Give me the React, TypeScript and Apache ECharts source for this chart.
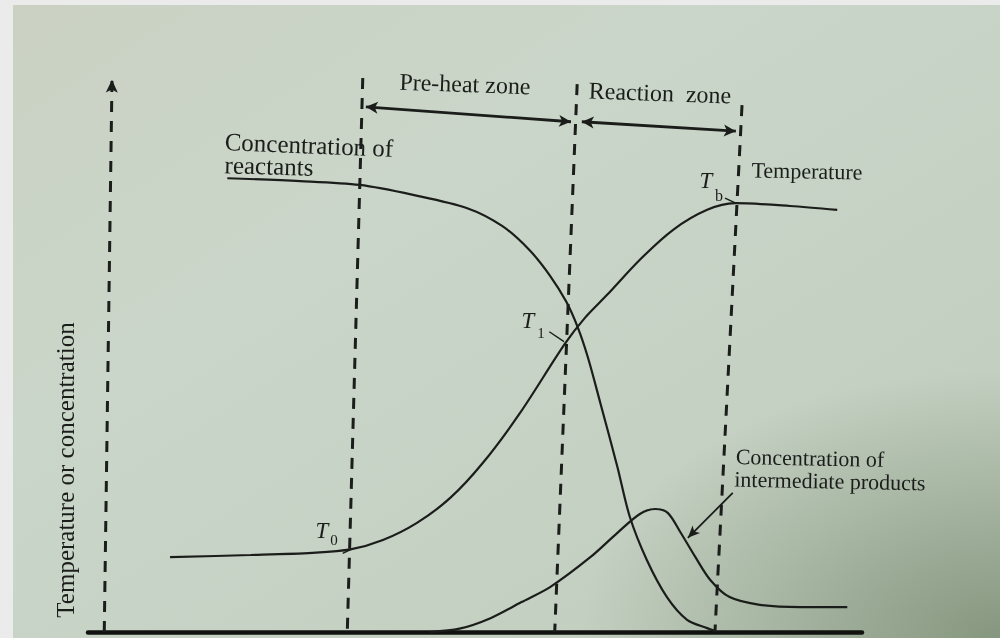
import { useEffect, useRef } from "react";
import * as echarts from "echarts";

// Position through the flame front (0–100) against normalised
// temperature / concentration (0–100).
const reactantConc: number[][] = [
  [18.0, 81.9], [27.4, 81.4], [35.1, 80.7], [42.0, 78.9], [49.0, 76.5],
  [53.5, 73.3], [57.0, 69.0], [59.7, 64.3], [61.8, 59.6], [63.3, 54.9],
  [64.6, 49.5], [66.2, 41.3], [68.4, 29.8], [70.0, 20.8], [72.2, 13.0],
  [74.8, 6.3], [77.4, 2.2], [80.0, 0.7], [81.0, 0.2],
];

const temperature: number[][] = [
  [10.6, 13.5], [21.0, 13.9], [29.0, 14.3], [33.9, 14.9], [38.1, 16.6],
  [42.5, 19.7], [46.8, 24.2], [51.0, 30.5], [55.8, 39.5], [61.6, 52.0],
  [64.2, 56.7], [67.1, 60.9], [71.3, 67.2], [75.6, 72.6], [80.0, 76.2],
  [83.6, 77.4], [90.7, 76.9], [96.8, 76.2],
];

const intermediateConc: number[][] = [
  [44.2, 0.0], [48.0, 0.6], [52.0, 2.5], [56.0, 5.4], [59.7, 8.1],
  [64.9, 13.5], [68.4, 17.9], [71.3, 21.3], [73.3, 22.2], [74.9, 21.5],
  [76.5, 18.1], [78.4, 13.7], [80.4, 9.4], [82.9, 6.3], [86.8, 4.9],
  [92.0, 4.5], [98.1, 4.5],
];

// Zone boundaries (top point, bottom point)
const zoneBoundaries: number[][][] = [
  [[35.5, 100.0], [33.5, 0.0]],
  [[63.2, 98.9], [60.3, 0.0]],
  [[84.5, 95.1], [81.0, 0.0]],
];

// Dashed ordinate with its arrow at the top
const ordinate: number[][][] = [[[2.1, 0.0], [3.1, 99.7]]];

// Double-headed spans of the pre-heat and reaction zones
const zoneSpans: number[][][] = [
  [[35.9, 94.8], [62.4, 92.1]],
  [[63.8, 92.1], [83.7, 90.4]],
];

// Leader arrow to the intermediate-products curve
const intermediateLeader: number[][][] = [[[83.3, 25.1], [77.5, 17.0]]];

// Short leaders from T0, T1 and Tb to their points
const markerLeaders: number[][][] = [
  [[32.9, 14.2], [34.0, 14.9]],
  [[59.6, 54.2], [61.5, 52.4]],
  [[82.3, 78.3], [83.7, 77.4]],
];

const INK = "#1b1d1a";
const SERIF = '"Liberation Serif", "DejaVu Serif", serif';

const segs = (
  list: number[][][],
  startSym: string,
  endSym: string,
  lineStyle: Record<string, unknown>
) =>
  list.map(([a, b]) => [
    { coord: a, symbol: startSym, lineStyle },
    { coord: b, symbol: endSym },
  ]);

const txt = (
  text: string,
  x: number,
  y: number,
  size: number,
  opts: { align?: string; rotation?: number; italic?: boolean } = {}
) => ({
  type: "text",
  x,
  y,
  rotation: opts.rotation ?? -0.035,
  z: 20,
  silent: true,
  style: {
    text,
    font: `${opts.italic ? "italic " : ""}${size}px ${SERIF}`,
    fill: INK,
    align: opts.align ?? "center",
    verticalAlign: "middle",
  },
});

export default function App() {
  const ref = useRef<HTMLDivElement>(null);

  useEffect(() => {
    if (!ref.current) return;
    const chart = echarts.init(ref.current, undefined, { renderer: "svg" });

    const curve = (name: string, data: number[][], markLine?: object) => ({
      name,
      type: "line",
      data,
      smooth: 0.3,
      showSymbol: false,
      silent: true,
      lineStyle: { color: INK, width: 2.2 },
      z: 5,
      markLine,
    });

    const dashed = { color: INK, width: 3, type: [11, 9] };
    const solid = { color: INK, width: 2.8, type: "solid" };
    const thin = { color: INK, width: 1.4, type: "solid" };

    chart.setOption({
      animation: false,
      grid: { left: 88, right: 138, top: 78, bottom: 6 },
      xAxis: {
        type: "value",
        min: 0,
        max: 100,
        axisLine: { show: true, lineStyle: { color: "#121311", width: 4.5 } },
        axisTick: { show: false },
        axisLabel: { show: false },
        splitLine: { show: false },
      },
      yAxis: {
        type: "value",
        min: 0,
        max: 100,
        axisLine: { show: false },
        axisTick: { show: false },
        axisLabel: { show: false },
        splitLine: { show: false },
      },
      graphic: [
        {
          type: "rect",
          z: -20,
          silent: true,
          shape: { x: 0, y: 0, width: 1000, height: 638 },
          style: {
            fill: new echarts.graphic.LinearGradient(0, 0, 1, 1, [
              { offset: 0, color: "#cad1c3" },
              { offset: 0.35, color: "#cad6c9" },
              { offset: 1, color: "#c0ccbd" },
            ]),
          },
        },
        {
          type: "rect",
          z: -19,
          silent: true,
          shape: { x: 0, y: 0, width: 1000, height: 638 },
          style: {
            fill: new echarts.graphic.RadialGradient(1, 1, 0.42, [
              { offset: 0, color: "rgba(95,115,85,0.6)" },
              { offset: 1, color: "rgba(95,115,85,0)" },
            ]),
          },
        },
        {
          type: "rect",
          z: -18,
          silent: true,
          shape: { x: 0, y: 0, width: 13, height: 638 },
          style: { fill: "#ebebeb" },
        },
        {
          type: "rect",
          z: -18,
          silent: true,
          shape: { x: 0, y: 0, width: 1000, height: 5 },
          style: { fill: "#ebebeb" },
        },
        txt("Pre-heat zone", 465, 84, 24),
        txt("Reaction  zone", 660, 93, 24),
        txt("Concentration of", 309, 145, 25, { rotation: -0.04 }),
        txt("reactants", 269, 166, 25, { rotation: -0.03 }),
        txt("Temperature", 807, 171, 22, { rotation: -0.02 }),
        txt("Concentration of", 810, 458, 22, { rotation: -0.02 }),
        txt("intermediate products", 830, 481, 22, { rotation: -0.02 }),
        txt("Temperature or concentration", 65, 470, 25, { rotation: Math.PI / 2 }),
        txt("T", 322, 530, 23, { italic: true, rotation: 0 }),
        txt("0", 334, 540, 15, { rotation: 0 }),
        txt("T", 528, 320, 23, { italic: true, rotation: 0 }),
        txt("1", 541, 333, 15, { rotation: 0 }),
        txt("T", 706, 180, 23, { italic: true, rotation: 0 }),
        txt("b", 719, 195, 16, { rotation: 0 }),
      ],
      series: [
        curve("Concentration of reactants", reactantConc, {
          silent: true,
          symbol: ["none", "none"],
          symbolSize: [9, 13],
          label: { show: false },
          lineStyle: dashed,
          data: [
            ...segs(zoneBoundaries, "none", "none", dashed),
            ...segs(ordinate, "none", "arrow", dashed),
          ],
        }),
        curve("Temperature", temperature, {
          silent: true,
          symbol: ["arrow", "arrow"],
          symbolSize: [9, 12],
          label: { show: false },
          lineStyle: solid,
          data: segs(zoneSpans, "arrow", "arrow", solid),
        }),
        curve("Concentration of intermediate products", intermediateConc, {
          silent: true,
          symbol: ["none", "arrow"],
          symbolSize: [8, 12],
          label: { show: false },
          lineStyle: thin,
          data: [
            ...segs(intermediateLeader, "none", "arrow", { ...thin, width: 1.8 }),
            ...segs(markerLeaders, "none", "none", thin),
          ],
        }),
      ],
    });

    return () => chart.dispose();
  }, []);

  return (
    <div
      ref={ref}
      style={{ position: "fixed", left: 0, top: 0, width: 1000, height: 638 }}
    />
  );
}
